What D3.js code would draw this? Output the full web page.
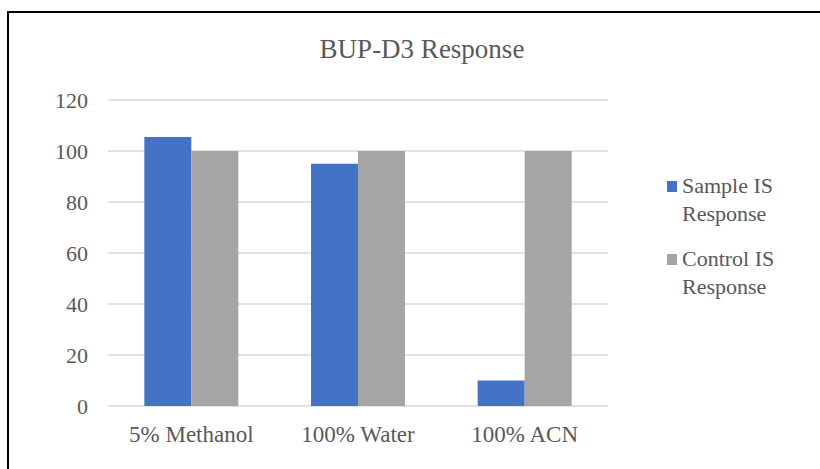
<!DOCTYPE html>
<html>
<head>
<meta charset="utf-8">
<script src="https://cdn.jsdelivr.net/npm/d3@7"></script>
<style>
  html, body { margin: 0; padding: 0; background: #fff; }
  svg { display: block; }
</style>
</head>
<body>
<svg id="chart" width="820" height="469"></svg>
<script>
// Solvent conditions and IS responses
const categories = ["5% Methanol", "100% Water", "100% ACN"];
const seriesNames = ["Sample IS Response", "Control IS Response"];
const sampleValues = [105.5, 95, 10];
const controlValues = [100, 100, 100];
const yTicks = [0, 20, 40, 60, 80, 100, 120];
const colors = ["#4472C4", "#A5A5A5"];
const FONT = "Liberation Serif";
const TEXT = "#595959";

const svg = d3.select("#chart");

// outer frame
svg.append("rect")
  .attr("x", 8).attr("y", 12)
  .attr("width", 830).attr("height", 480)
  .attr("fill", "none").attr("stroke", "#000").attr("stroke-width", 2);

const plot = { left: 108, right: 608, top: 100, bottom: 406 };

const x = d3.scaleBand().domain(categories)
  .range([plot.left, plot.right]).paddingInner(0.436).paddingOuter(0.218);
const xs = d3.scaleBand().domain(seriesNames).range([0, x.bandwidth()]);
const y = d3.scaleLinear().domain([0, 120]).range([plot.bottom, plot.top]);

// gridlines
svg.append("g").selectAll("line").data(yTicks).join("line")
  .attr("x1", plot.left).attr("x2", plot.right)
  .attr("y1", d => y(d)).attr("y2", d => y(d))
  .attr("stroke", "#D9D9D9").attr("stroke-width", 1.3);

// y axis labels
const yAxis = d3.axisLeft(y).tickValues(yTicks).tickSize(0).tickPadding(0);
const yg = svg.append("g").attr("transform", `translate(${plot.left - 20},0)`).call(yAxis);
yg.attr("font-family", null).attr("font-size", null);
yg.select(".domain").remove();
yg.selectAll("text").attr("font-family", FONT).attr("font-size", 22)
  .attr("fill", TEXT).attr("dy", "0.33em");

// bars
const rows = categories.map((c, i) => ({ cat: c, vals: [sampleValues[i], controlValues[i]] }));
const groups = svg.append("g").selectAll("g").data(rows).join("g")
  .attr("transform", d => `translate(${x(d.cat)},0)`);
groups.selectAll("rect").data(d => d.vals.map((v, j) => ({ s: seriesNames[j], v, j }))).join("rect")
  .attr("x", d => xs(d.s)).attr("width", xs.bandwidth())
  .attr("y", d => y(d.v)).attr("height", d => y(0) - y(d.v))
  .attr("fill", d => colors[d.j]);

// x axis labels
const xAxis = d3.axisBottom(x).tickSize(0).tickPadding(0);
const xg = svg.append("g").attr("transform", `translate(0,442)`).call(xAxis);
xg.attr("font-family", null).attr("font-size", null);
xg.select(".domain").remove();
xg.selectAll("text").attr("font-family", FONT).attr("font-size", 23)
  .attr("fill", TEXT).attr("dy", 0);

// title
svg.append("text").attr("x", 422).attr("y", 58).attr("text-anchor", "middle")
  .attr("font-family", FONT).attr("font-size", 27).attr("fill", TEXT)
  .text("BUP-D3 Response");

// legend
const legendLines = [["Sample IS", "Response"], ["Control IS", "Response"]];
const lg = svg.append("g").selectAll("g").data(legendLines).join("g")
  .attr("transform", (d, i) => `translate(667,${193 + i * 73})`);
lg.append("rect").attr("x", 0).attr("y", -12).attr("width", 10).attr("height", 11)
  .attr("fill", (d, i) => colors[i]);
lg.each(function(d) {
  const t = d3.select(this).append("text").attr("x", 15).attr("y", 0)
    .attr("font-family", FONT).attr("font-size", 22).attr("fill", TEXT);
  d.forEach((line, k) => t.append("tspan").attr("x", 15).attr("dy", k === 0 ? 0 : 28).text(line));
});
</script>
</body>
</html>
